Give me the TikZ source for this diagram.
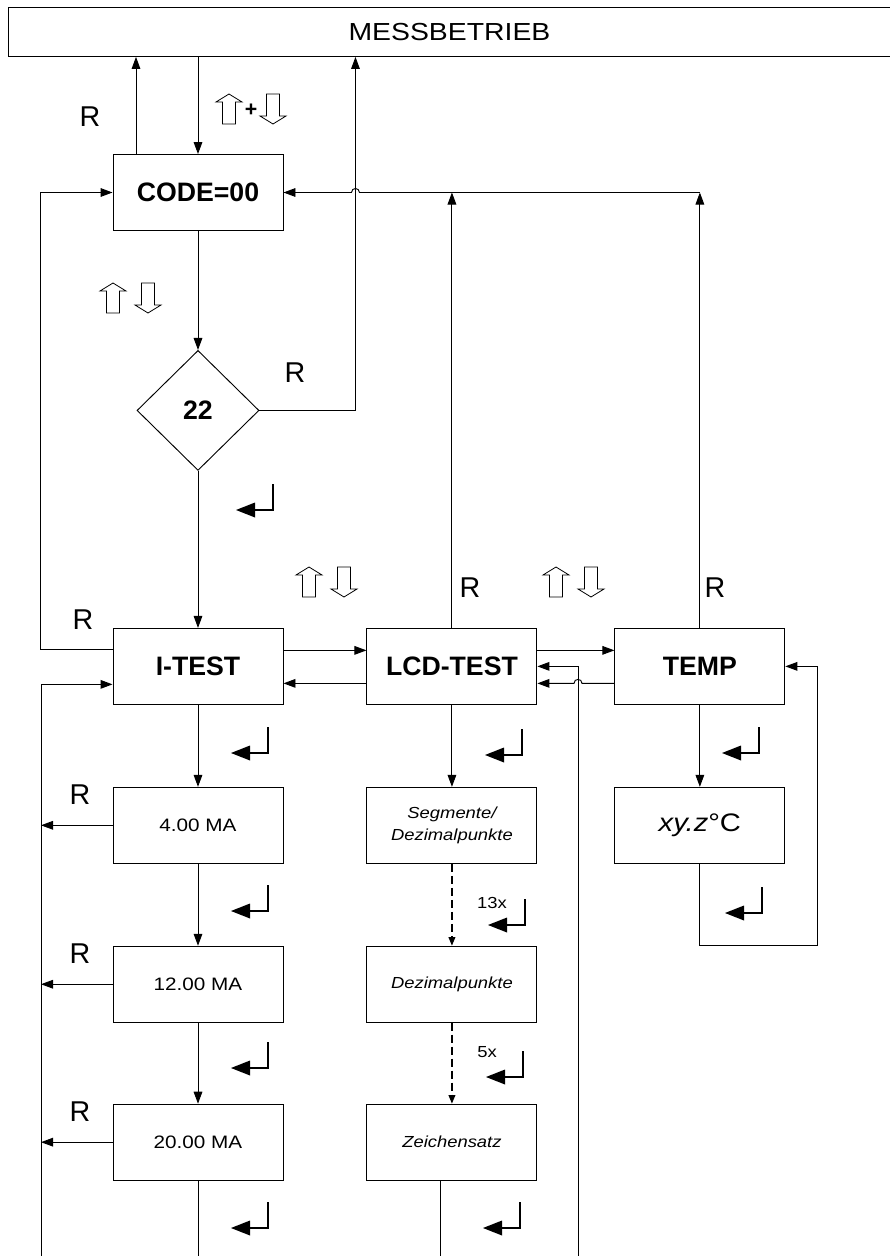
\documentclass[tikz,border=0pt]{standalone}
\usepackage{fontspec}
\setmainfont{Liberation Sans}
\newfontfamily\widefont{Liberation Sans}[FakeStretch=1.15]
\usetikzlibrary{
    arrows.meta,
    positioning,
    shapes.geometric,
    calc
}

\begin{document}
\begin{tikzpicture}[
x=0.75pt, y=-0.75pt,
line width=0.7pt,
node distance=61.5pt,
box/.style={
draw,
minimum width=127.5pt,
minimum height=57pt,
align=center,
inner sep=0pt
},
bigbox/.style={box, font=\bfseries\fontsize{20}{24}\selectfont},
mabox/.style={box, font=\widefont\fontsize{13.5}{16}\selectfont},
itbox/.style={box, font=\widefont\itshape\fontsize{12}{16.5}\selectfont},
lbl/.style={inner sep=0pt, font=\fontsize{21.5}{24}\selectfont},
cnt/.style={inner sep=0pt, font=\widefont\fontsize{12}{14}\selectfont},
arr/.style={-{Triangle[length=9pt,width=6.5pt]}},
darr/.style={-{Triangle[length=6.5pt,width=5pt]}, line width=1.2pt,
  dash pattern=on 6pt off 3pt},
keyup/.pic={
\draw[line width=0.6pt, fill=white] (-6.5,0) -- (-6.5,-22) -- (-13,-22)
  -- (0,-30) -- (13,-22) -- (6.5,-22) -- (6.5,0) -- cycle;
},
keydown/.pic={
\draw[line width=0.6pt, fill=white] (-6.5,-30) -- (-6.5,-8) -- (-13,-8)
  -- (0,0) -- (13,-8) -- (6.5,-8) -- (6.5,-30) -- cycle;
},
enterkey/.pic={
\draw[line width=1.3pt] (0,-26) -- (0,0) -- (-18,0);
\fill (-18,-7.5) -- (-37,0) -- (-18,7.5) -- cycle;
}
]

\useasboundingbox (0,0) rectangle (889,1256);

% top bar
\node[draw, anchor=north west, minimum width=661.5pt, minimum height=36.75pt,
font=\widefont\fontsize{18.5}{20}\selectfont] (mess) at (8,7) {MESSBETRIEB};

% code entry
\node[bigbox] (code) at (198,192.5) {CODE=00};

\node[diamond, draw, minimum width=91.5pt, minimum height=90pt, inner sep=0pt,
font=\bfseries\fontsize{20}{24}\selectfont,
below=89.25pt of code] (dia) {22};

% test menu
\node[bigbox, below=117.75pt of dia] (itest) {I-TEST};
\node[bigbox, right=62.25pt of itest] (lcd) {LCD-TEST};
\node[bigbox, right=57.75pt of lcd] (temp) {TEMP};

\node[mabox, below=of itest] (ma4) {4.00 MA};
\node[mabox, below=of ma4] (ma12) {12.00 MA};
\node[mabox, below=60.75pt of ma12] (ma20) {20.00 MA};

\node[itbox, below=of lcd] (seg) {Segmente/\\Dezimalpunkte};
\node[itbox, below=of seg] (dez) {Dezimalpunkte};
\node[itbox, below=60.75pt of dez] (zei) {Zeichensatz};

\node[box, font=\widefont\fontsize{19}{22}\selectfont,
below=of temp] (xyz) {\itshape xy.z\upshape °C};

% labels
\node[lbl] (r1) at (90,117) {R};
\node[lbl] (r2) at (295,373) {R};
\node[lbl] (r3) at (83,620) {R};
\node[lbl] (r4) at (470,588) {R};
\node[lbl] (r5) at (715,588) {R};
\node[lbl] (r6) at (80,795) {R};
\node[lbl] (r7) at (80,954) {R};
\node[lbl] (r8) at (80,1112) {R};
\node[cnt] (n13) at (492,903) {13x};
\node[cnt] (n5) at (487,1052) {5x};
\node[inner sep=0pt, font=\bfseries\fontsize{16}{18}\selectfont] (plus) at (251,110) {+};

% keys
\pic at (229,124) {keyup};
\pic at (273,124) {keydown};
\pic at (113,313) {keyup};
\pic at (148,313) {keydown};
\pic at (309,597) {keyup};
\pic at (344,597) {keydown};
\pic at (556,597) {keyup};
\pic at (591,597) {keydown};

\pic at (273,510) {enterkey};
\pic at (268,753) {enterkey};
\pic at (268,911) {enterkey};
\pic at (268,1068) {enterkey};
\pic at (268,1228) {enterkey};
\pic at (522,755) {enterkey};
\pic at (525,925) {enterkey};
\pic at (523,1077) {enterkey};
\pic at (520,1228) {enterkey};
\pic at (759,753) {enterkey};
\pic at (762,913) {enterkey};

% rails
\coordinate (bl) at (41,1258);
\coordinate (br) at (578,1258);
\path (code.north) ++(-62,0) coordinate (c1);
\coordinate (t2) at ([yshift=-12.75pt]temp.west);
\coordinate (l2) at ([yshift=-12.75pt]lcd.east);
\coordinate (hop2) at (t2 -| br);

% connectors
\draw[arr] (c1) -- (c1 |- mess.south);
\draw[arr] (code.north |- mess.south) -- (code.north);
\draw[arr] (code.south) -- (dia.north);
\draw[arr] (dia.east) -- ++(96,0) coordinate (dr) -- (dr |- mess.south);
\draw[arr] (dia.south) -- (itest.north);

\draw[arr] ([yshift=12.75pt]itest.west) -- ++(-72,0) coordinate (lr)
  |- (code.west);
\draw[arr] (temp.north) -- (temp.north |- code.east) coordinate (tr);
\draw[arr] (lcd.north) -- (lcd.north |- code.east);
\coordinate (hop1) at (dr |- code.east);
\draw[arr] (tr) -- ($(hop1)+(4,0)$) .. controls +(0,-5.3) and +(0,-5.3)
  .. ($(hop1)+(-4,0)$) -- (code.east);

\draw[arr] ([yshift=12pt]itest.east) -- ([yshift=12pt]lcd.west);
\draw[arr] ([yshift=-12.75pt]lcd.west) -- ([yshift=-12.75pt]itest.east);
\draw[arr] ([yshift=12pt]lcd.east) -- ([yshift=12pt]temp.west);
\draw[arr] (t2) -- ($(hop2)+(4,0)$) .. controls +(0,-5.3) and +(0,-5.3)
  .. ($(hop2)+(-4,0)$) -- (l2);
\draw[arr] (br) |- (lcd.east);
\draw[arr] (bl) |- ([yshift=-13.5pt]itest.west);

\draw[arr] (itest) -- (ma4);
\draw[arr] (ma4) -- (ma12);
\draw[arr] (ma12) -- (ma20);
\draw (ma20.south) -- (ma20.south |- bl);
\draw[arr] (ma4.west) -- (ma4.west -| bl);
\draw[arr] (ma12.west) -- (ma12.west -| bl);
\draw[arr] (ma20.west) -- (ma20.west -| bl);

\draw[arr] (lcd) -- (seg);
\draw[darr] (seg) -- (dez);
\draw[darr] (dez) -- (zei);
\draw ([xshift=-8.25pt]zei.south) -- ([xshift=-8.25pt]zei.south |- bl);

\draw[arr] (temp) -- (xyz);
\draw[arr] (xyz.south) -- ++(0,82) -| ([xshift=24pt]temp.east) -- (temp.east);

\end{tikzpicture}
\end{document}
